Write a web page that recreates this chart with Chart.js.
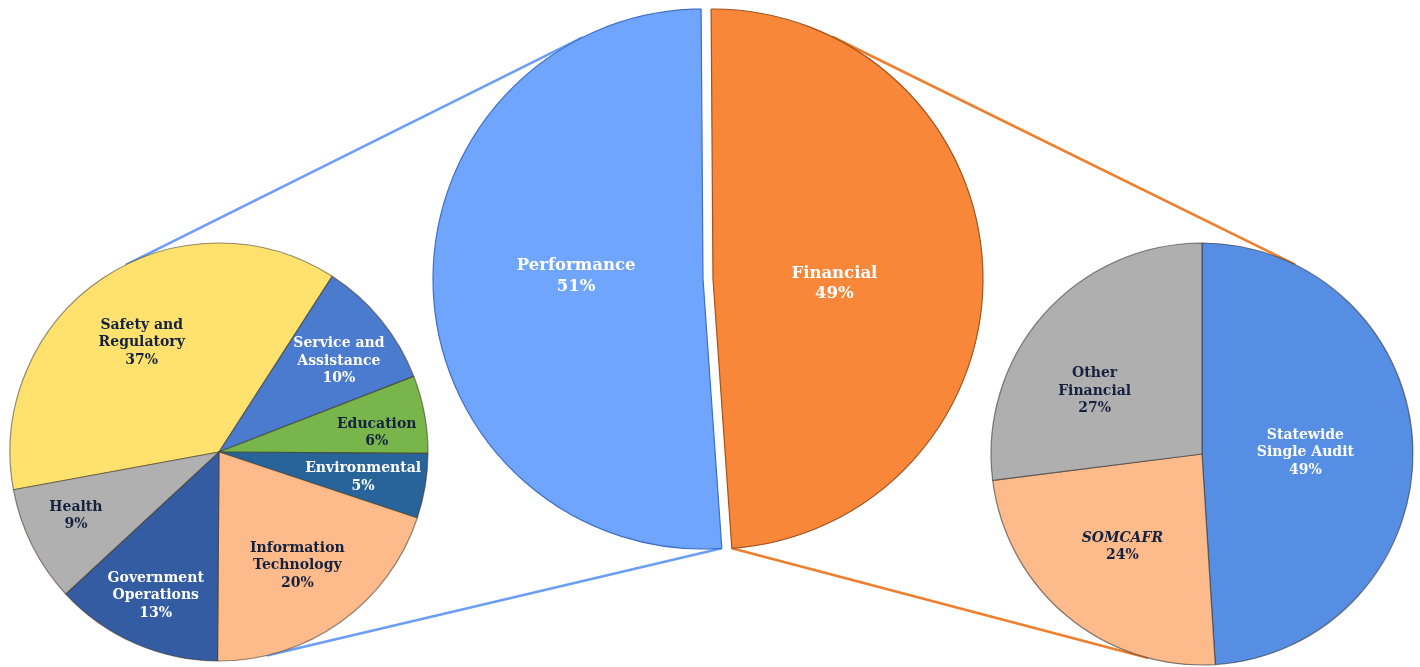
<!DOCTYPE html>
<html>
<head>
<meta charset="utf-8">
<title>Audit types</title>
<script src="https://cdn.jsdelivr.net/npm/chart.js@4.4.1/dist/chart.umd.min.js"></script>
<style>
  html, body { margin: 0; padding: 0; background: #ffffff; }
  #stage { position: relative; width: 1420px; height: 667px; overflow: hidden; }
  #links { position: absolute; left: 0; top: 0; }
  .pie { position: absolute; }
</style>
</head>
<body>
<div id="stage">
  <canvas id="links" width="1420" height="667"></canvas>
  <div class="pie" id="boxLeft" style="left:4px;top:237px;width:430px;height:430px"><canvas id="leftPie"></canvas></div>
  <div class="pie" id="boxPerf" style="left:423px;top:-1px;width:560px;height:560px"><canvas id="perfPie"></canvas></div>
  <div class="pie" id="boxFin" style="left:433px;top:-1px;width:560px;height:560px"><canvas id="finPie"></canvas></div>
  <div class="pie" id="boxRight" style="left:986px;top:238px;width:432px;height:432px"><canvas id="rightPie"></canvas></div>
</div>
<script>
// --- data ---
const mainLabels = [['Performance'], ['Financial']];
const mainValues = [51, 49];

const perfLabels = [['Safety and', 'Regulatory'], ['Service and', 'Assistance'], ['Education'],
  ['Environmental'], ['Information', 'Technology'], ['Government', 'Operations'], ['Health']];
const perfValues = [37, 10, 6, 5, 20, 13, 9];

const finLabels = [['Statewide', 'Single Audit'], ['SOMCAFR'], ['Other', 'Financial']];
const finValues = [49, 24, 27];

// --- colours ---
const NAVY = '#15223f';
const WHITE = '#ffffff';
const BLUE_MAIN = '#6fa5fd';
const ORANGE_MAIN = '#f8873a';

// labels drawn inside each slice
const sliceLabels = {
  id: 'sliceLabels',
  afterDatasetsDraw(chart, args, opts) {
    const ctx = chart.ctx;
    const meta = chart.getDatasetMeta(0);
    const values = chart.data.datasets[0].data;
    ctx.save();
    ctx.textAlign = 'center';
    ctx.textBaseline = 'middle';
    meta.data.forEach((arc, i) => {
      if (!opts.colors[i]) return;
      const shift = (opts.shift ? opts.shift[i] : 0) * Math.PI / 180;
      const mid = (arc.startAngle + arc.endAngle) / 2 + shift;
      const r = arc.outerRadius * opts.fracs[i];
      const x = arc.x + Math.cos(mid) * r;
      const y = arc.y + Math.sin(mid) * r;
      const lines = chart.data.labels[i].concat([values[i] + '%']);
      ctx.fillStyle = opts.colors[i];
      const top = y - (lines.length - 1) * opts.lineHeight / 2;
      lines.forEach((t, k) => {
        const ital = opts.italic && opts.italic[i] && k < lines.length - 1 ? 'italic ' : '';
        ctx.font = ital + 'bold ' + opts.size + 'px "DejaVu Serif", serif';
        ctx.fillText(t, x, top + k * opts.lineHeight);
      });
    });
    ctx.restore();
  }
};

function makePie(id, labels, values, colors, borders, radius, rotation, labelOpts) {
  return new Chart(document.getElementById(id), {
    type: 'pie',
    data: {
      labels: labels,
      datasets: [{
        data: values,
        backgroundColor: colors,
        borderColor: borders,
        borderWidth: 1.2
      }]
    },
    options: {
      responsive: true,
      maintainAspectRatio: false,
      animation: false,
      radius: radius,
      rotation: rotation,
      layout: { padding: 0 },
      events: [],
      plugins: {
        legend: { display: false },
        tooltip: { enabled: false },
        sliceLabels: labelOpts
      }
    },
    plugins: [sliceLabels]
  });
}

const leftChart = makePie('leftPie', perfLabels, perfValues,
  ['#ffe26e', '#4a7bcf', '#78b54a', '#286499', '#fdba8a', '#335ca3', '#b0b0b0'],
  'rgba(60,50,30,0.55)', 209, -100.4,
  { fracs: [0.64, 0.72, 0.76, 0.70, 0.66, 0.75, 0.75],
    shift: [-1.5, 2, 3.5, 0.5, 1, 0, 2.5],
    colors: [NAVY, WHITE, NAVY, WHITE, NAVY, WHITE, NAVY],
    size: 14, lineHeight: 17.5 });

const perfChart = makePie('perfPie', mainLabels, mainValues,
  [BLUE_MAIN, 'rgba(0,0,0,0)'], ['#3f6fc4', 'rgba(0,0,0,0)'], 270, 176,
  { fracs: [0.47, 0.45], shift: [3.5, 0], colors: [WHITE, null], size: 16.5, lineHeight: 20.5 });

const finChart = makePie('finPie', mainLabels, mainValues,
  ['rgba(0,0,0,0)', ORANGE_MAIN], ['rgba(0,0,0,0)', '#a3531c'], 270, 176,
  { fracs: [0.47, 0.45], shift: [0, 4.5], colors: [null, WHITE], size: 16.5, lineHeight: 20.5 });

const rightChart = makePie('rightPie', finLabels, finValues,
  ['#558ee3', '#fdba8a', '#afafaf'],
  'rgba(50,50,50,0.6)', 211, 0,
  { fracs: [0.49, 0.58, 0.59], shift: [1, 1, -11], colors: [WHITE, NAVY, NAVY],
    italic: [false, true, false], size: 14, lineHeight: 17.5 });

// --- connector lines, computed from the drawn arcs ---
function arcGeom(chart, i) {
  const arc = chart.getDatasetMeta(0).data[i];
  const box = chart.canvas.parentNode;
  return { x: arc.x + box.offsetLeft, y: arc.y + box.offsetTop, r: arc.outerRadius,
           start: arc.startAngle, end: arc.endAngle };
}

// upper outer tangent of two circles
function outerTangent(a, b) {
  const vx = a.x - b.x, vy = a.y - b.y;
  const d = Math.hypot(vx, vy);
  const phi = Math.atan2(vy, vx);
  const beta = Math.acos((a.r - b.r) / d);
  let best = null;
  [phi + beta, phi - beta].forEach(t => {
    const nx = Math.cos(t), ny = Math.sin(t);
    const p = [a.x - a.r * nx, a.y - a.r * ny, b.x - b.r * nx, b.y - b.r * ny];
    if (!best || p[1] + p[3] < best[1] + best[3]) best = p;
  });
  return best;
}

// lower tangent from a point to a circle
function pointTangent(px, py, c) {
  const dx = c.x - px, dy = c.y - py;
  const d = Math.hypot(dx, dy);
  const base = Math.atan2(dy, dx);
  const a = Math.asin(c.r / d);
  const len = Math.sqrt(d * d - c.r * c.r);
  let best = null;
  [base + a, base - a].forEach(t => {
    const p = [px, py, px + Math.cos(t) * len, py + Math.sin(t) * len];
    if (!best || p[3] > best[3]) best = p;
  });
  return best;
}

const perf = arcGeom(perfChart, 0);
const fin = arcGeom(finChart, 1);
const left = arcGeom(leftChart, 0);
const right = arcGeom(rightChart, 0);

const lctx = document.getElementById('links').getContext('2d');
lctx.lineWidth = 2.6;
function seg(p, color) {
  lctx.strokeStyle = color;
  lctx.beginPath();
  lctx.moveTo(p[0], p[1]);
  lctx.lineTo(p[2], p[3]);
  lctx.stroke();
}
seg(outerTangent(perf, left), '#6a9ff5');
seg(pointTangent(perf.x + Math.cos(perf.start) * perf.r, perf.y + Math.sin(perf.start) * perf.r, left), '#6a9ff5');
seg(outerTangent(fin, right), '#ef7f2c');
seg(pointTangent(fin.x + Math.cos(fin.end) * fin.r, fin.y + Math.sin(fin.end) * fin.r, right), '#ef7f2c');
</script>
</body>
</html>
